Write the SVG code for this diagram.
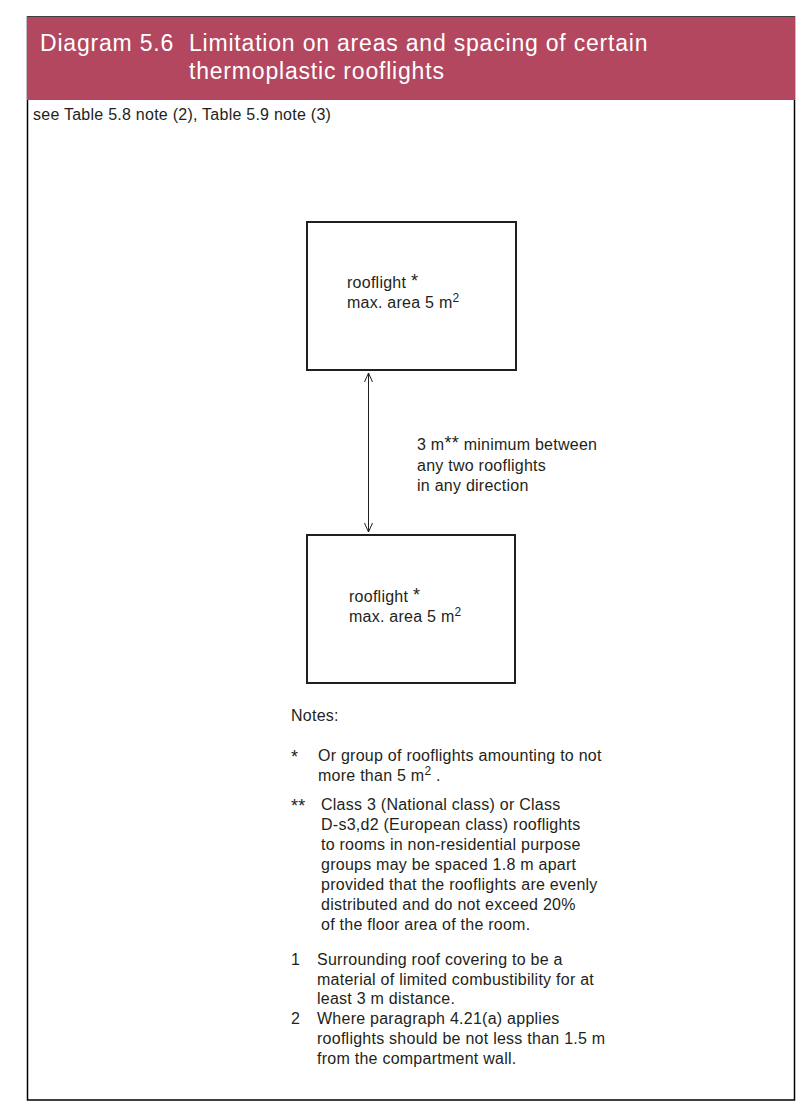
<svg xmlns="http://www.w3.org/2000/svg" width="812" height="1117" viewBox="0 0 812 1117">
<defs>
<style>
text{font-family:"Liberation Sans",Arial,sans-serif;fill:#231f20;font-size:16px;letter-spacing:0.25px}
.hd{fill:#ffffff;font-size:23px;letter-spacing:0.8px}
.box{fill:#ffffff;stroke:#231f20;stroke-width:2}
.sup{font-size:12px}
.ast{font-size:18px}
</style>
<marker id="ah" viewBox="0 0 10 10" refX="10" refY="5" markerWidth="10" markerHeight="10" markerUnits="userSpaceOnUse" orient="auto-start-reverse">
<path d="M1,1 L10,5 L1,9" fill="none" stroke="#231f20" stroke-width="1"/>
</marker>
</defs>
<rect x="0" y="0" width="812" height="1117" fill="#ffffff"/>
<g id="frame">
<rect x="27.5" y="17" width="767" height="1083" fill="none" stroke="#000" stroke-width="1.5"/>
<rect x="27" y="17" width="768" height="83" fill="#b3475f"/>
<text class="hd" x="40" y="51" letter-spacing="0.3">Diagram 5.6</text>
<text class="hd" x="189" y="51">Limitation on areas and spacing of certain</text>
<text class="hd" x="189" y="79">thermoplastic rooflights</text>
<text x="33" y="120">see Table 5.8 note (2), Table 5.9 note (3)</text>
</g>
<g id="rooflight1">
<rect class="box" x="307" y="222" width="209" height="148"/>
<text x="347" y="288">rooflight <tspan class="ast" dy="-1">*</tspan></text>
<text x="347" y="308">max. area 5 m<tspan class="sup" dy="-6">2</tspan></text>
</g>
<g id="rooflight2">
<rect class="box" x="307" y="535" width="208" height="148"/>
<text x="349" y="602">rooflight <tspan class="ast" dy="-1">*</tspan></text>
<text x="349" y="622">max. area 5 m<tspan class="sup" dy="-6">2</tspan></text>
</g>
<g id="connectors">
<line x1="368.5" y1="373" x2="368.5" y2="532" stroke="#231f20" stroke-width="1" marker-start="url(#ah)" marker-end="url(#ah)"/>
</g>
<g id="spacing-label">
<text x="417" y="450">3 m<tspan class="ast" dy="-1">**</tspan><tspan dy="1"> minimum between</tspan></text>
<text x="417" y="471">any two rooflights</text>
<text x="417" y="491">in any direction</text>
</g>
<g id="notes">
<text x="291" y="721" letter-spacing="0.8">Notes:</text>
<text x="291" y="763" class="ast">*</text>
<text x="318" y="761">Or group of rooflights amounting to not</text>
<text x="318" y="781">more than 5 m<tspan class="sup" dy="-6">2</tspan><tspan dy="6"> .</tspan></text>
<text x="291" y="812" class="ast">**</text>
<text x="321" y="810">Class 3 (National class) or Class</text>
<text x="321" y="830">D-s3,d2 (European class) rooflights</text>
<text x="321" y="850">to rooms in non-residential purpose</text>
<text x="321" y="870">groups may be spaced 1.8 m apart</text>
<text x="321" y="890">provided that the rooflights are evenly</text>
<text x="321" y="910">distributed and do not exceed 20%</text>
<text x="321" y="930">of the floor area of the room.</text>
<text x="291" y="965">1</text>
<text x="317" y="965">Surrounding roof covering to be a</text>
<text x="317" y="985">material of limited combustibility for at</text>
<text x="317" y="1004">least 3 m distance.</text>
<text x="291" y="1024">2</text>
<text x="317" y="1024">Where paragraph 4.21(a) applies</text>
<text x="317" y="1044">rooflights should be not less than 1.5 m</text>
<text x="317" y="1064">from the compartment wall.</text>
</g>
</svg>
